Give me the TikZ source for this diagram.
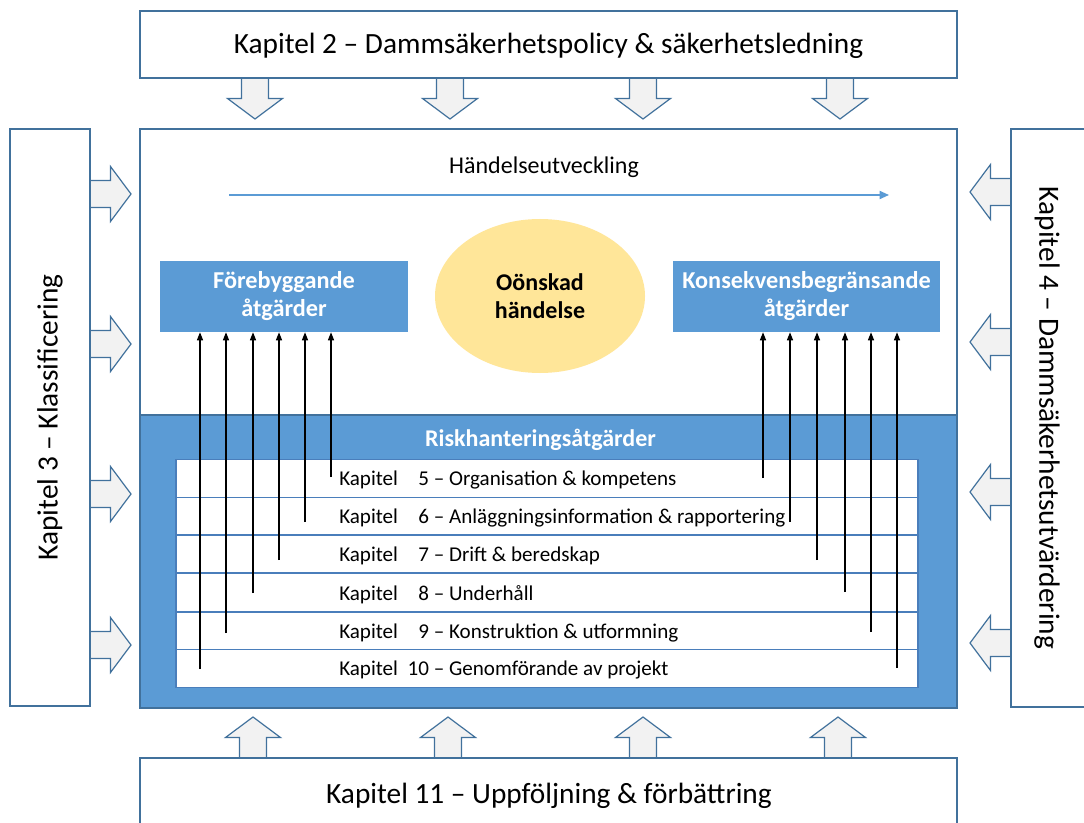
\documentclass[tikz,border=0pt]{standalone}
\usepackage{fontspec}
\setmainfont{Carlito}
\usetikzlibrary{arrows.meta,shapes.geometric}
\definecolor{bord}{HTML}{41719C}
\definecolor{fillblue}{HTML}{5B9BD5}
\definecolor{arrfill}{HTML}{F2F2F2}
\definecolor{ellfill}{HTML}{FFE699}
\definecolor{rowline}{HTML}{4A7EBB}
\begin{document}
\begin{tikzpicture}[x=0.75pt,y=-0.75pt,
  bigfont/.style={font=\fontsize{22}{26}\selectfont},
  chapbox/.style={draw=bord,line width=1.1pt,fill=white,inner sep=0pt,bigfont},
  bluebox/.style={fill=fillblue,inner sep=0pt,text=white,align=center,font=\bfseries\fontsize{18.2}{21}\selectfont},
  rowbox/.style={draw=rowline,line width=1.1pt,fill=white,inner sep=0pt,minimum width=556.5pt,minimum height=28.5pt},
  rowtext/.style={anchor=west,inner sep=0pt,font=\fontsize{15.8}{18}\selectfont},
  blockarrow/.pic={\draw[draw=bord,fill=arrfill,line width=0.9pt,line join=miter]
     (-13.5,0) -- (-13.5,20.5) -- (-27.5,20.5) -- (0,41) -- (27.5,20.5) -- (13.5,20.5) -- (13.5,0);},
  conn/.style={line width=1pt,-{Triangle[length=6pt,width=4.5pt]}}
]
\useasboundingbox (0,0) rectangle (1084,823);
% block arrows
\foreach \x in {255,450,643,840} \pic at (\x,78) {blockarrow};
\foreach \x in {253,448,643,838} \pic[rotate=180] at (\x,758) {blockarrow};
\foreach \y in {194,344,494,645} \pic[rotate=90] at (90,\y) {blockarrow};
\foreach \y in {192,342,492,643} \pic[rotate=-90] at (1011,\y) {blockarrow};
% surrounding chapter boxes
\node[chapbox,minimum width=612.75pt,minimum height=50.25pt] (k2) at (548.5,44.5) {};
\node[bigfont,inner sep=0pt] (k2t) at (548.5,46) {Kapitel 2 – Dammsäkerhetspolicy \& säkerhetsledning};
\node[chapbox,minimum width=60pt,minimum height=432.75pt] (k3) at (50,417.5) {};
\node[bigfont,rotate=90,inner sep=0pt] (k3t) at (k3.center) {Kapitel 3 – Klassificering};
\node[chapbox,minimum width=60pt,minimum height=433.5pt] (k4) at (1051,418) {};
\node[bigfont,rotate=-90,inner sep=0pt] (k4t) at (1047,418) {Kapitel 4 – Dammsäkerhetsutvärdering};
\node[chapbox,minimum width=612.75pt,minimum height=60pt] (k11) at (548.5,798) {};
\node[bigfont,inner sep=0pt] (k11t) at (549,796) {Kapitel 11 – Uppföljning \& förbättring};
% main box
\node[draw=bord,line width=1.1pt,fill=white,minimum width=612.75pt,minimum height=434.25pt,inner sep=0pt] (main) at (548.5,418.5) {};
\node[draw=bord,line width=1.1pt,fill=fillblue,minimum width=612.75pt,minimum height=219.75pt,inner sep=0pt] (risk) at (548.5,561.5) {};
\node[text=white,font=\bfseries\fontsize{18}{21}\selectfont,inner sep=0pt] (riskt) at (540.5,440) {Riskhanteringsåtgärder};
% top section
\node[font=\fontsize{18}{21}\selectfont,inner sep=0pt] (hand) at (544,167) {Händelseutveckling};
\coordinate (hs) at (229,195);
\coordinate (he) at (889,195);
\draw[draw=fillblue,line width=1.3pt,-{Triangle[length=7pt,width=6pt]}] (hs) -- (he);
\node[bluebox,minimum width=186pt,minimum height=53.25pt] (fore) at (284,296.5) {Förebyggande\\åtgärder};
\node[bluebox,minimum width=200.25pt,minimum height=53.25pt] (kons) at (806.5,296.5) {Konsekvensbegränsande\\åtgärder};
\node[ellipse,fill=ellfill,minimum width=157.5pt,minimum height=115.5pt,inner sep=0pt,align=center,font=\bfseries\fontsize{18}{21}\selectfont] (ell) at (540,296) {Oönskad\\händelse};
% rows
\foreach \n/\y/\t in {5/478.6/Organisation \& kompetens,
                      6/516.4/Anläggningsinformation \& rapportering,
                      7/554.2/Drift \& beredskap,
                      8/592.5/Underhåll,
                      9/630.8/Konstruktion \& utformning,
                      10/668.6/Genomförande av projekt}{
  \node[rowbox] (r\n) at (547,\y) {};
  \node[rowtext] (t\n) at (339,\y+1.8) {Kapitel \makebox[1.25em][r]{\n} – \t};
}
% connectors
\foreach \i/\x/\y in {1/200/669,2/226/633,3/253/593,4/279/560,5/305/522,6/331/477}{
  \coordinate (fl\i) at (\x,\y);
  \draw[conn] (fl\i) -- (fl\i |- fore.south);
}
\foreach \i/\x/\y in {1/763/478,2/790/522,3/817/560,4/845/592,5/871/632,6/897/668}{
  \coordinate (kl\i) at (\x,\y);
  \draw[conn] (kl\i) -- (kl\i |- kons.south);
}
\end{tikzpicture}
\end{document}
